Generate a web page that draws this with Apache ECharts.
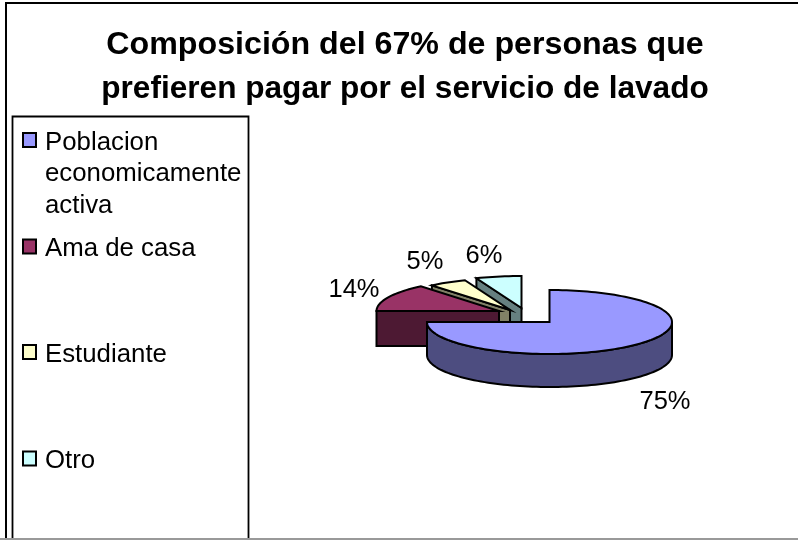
<!DOCTYPE html>
<html><head><meta charset="utf-8">
<style>html,body{margin:0;padding:0;background:#fff}#c{width:798px;height:540px}</style>
<script src="https://cdn.jsdelivr.net/npm/echarts@6/dist/echarts.min.js"></script>
</head><body><div id="c"></div>
<script>
const titleLines = ['Composición del 67% de personas que', 'prefieren pagar por el servicio de lavado'];
const categories = ['Poblacion\neconomicamente\nactiva', 'Ama de casa', 'Estudiante', 'Otro'];
const values = [75, 14, 5, 6];
const faceColors = ['#9999FF', '#993366', '#FFFFCC', '#CCFFFF'];
const sideColors = ['#4D4D80', '#4D1933', '#808066', '#668080'];

// pie geometry (pixels)
const CX = 549.5, CY = 322, RX = 122.5, RY = 32, DEPTH = 33;
const explode = [[0, 0], [-50.5, -11], [-39.5, -12], [-28, -14]];
const labelPos = [[665, 401.5], [354, 290], [425, 261.5], [484, 256]];
const legendRows = [140, 246.5, 352, 458.5];
const titleSizes = [32.2, 31.6];
const FONT = '"Liberation Sans", Arial, sans-serif';

const total = values.reduce((a, b) => a + b, 0);
const starts = [];
values.reduce((acc, v, i) => { starts[i] = acc; return acc + v; }, 0);

function rimPoint(ax, ay, deg) {
  const r = deg * Math.PI / 180;
  return [ax + RX * Math.sin(r), ay - RY * Math.cos(r)];
}
function arcPts(ax, ay, a0, a1) {
  const pts = [], n = Math.max(2, Math.ceil(Math.abs(a1 - a0) / 2));
  for (let i = 0; i <= n; i++) pts.push(rimPoint(ax, ay, a0 + (a1 - a0) * i / n));
  return pts;
}
function poly(points, fill) {
  return { type: 'polygon', shape: { points }, style: { fill, stroke: '#000', lineWidth: 2, lineJoin: 'miter' } };
}
function renderSlice(params) {
  const i = params.dataIndex;
  const a0 = starts[i] / total * 360, a1 = (starts[i] + values[i]) / total * 360;
  const ax = CX + explode[i][0], ay = CY + explode[i][1];
  const children = [];
  // cut face on the counter-clockwise edge, visible only for the upper-left slices
  if (a0 >= 180) {
    const p = rimPoint(ax, ay, a0);
    children.push(poly([[ax, ay], p, [p[0], p[1] + DEPTH + 2], [ax, ay + DEPTH + 2]], sideColors[i]));
  }
  // outer wall, where the rim faces the viewer
  const w0 = Math.max(a0, 90), w1 = Math.min(a1, 270);
  if (w1 > w0) {
    const top = arcPts(ax, ay, w0, w1);
    const bottom = top.slice().reverse().map(p => [p[0], p[1] + DEPTH]);
    children.push(poly(top.concat(bottom), sideColors[i]));
  }
  children.push(poly([[ax, ay]].concat(arcPts(ax, ay, a0, a1)), faceColors[i]));
  return { type: 'group', children };
}
function renderLabel(params) {
  const i = params.dataIndex;
  return { type: 'text', x: labelPos[i][0], y: labelPos[i][1],
    style: { text: values[i] + '%', fill: '#000', font: '25.5px ' + FONT, align: 'center', verticalAlign: 'middle' } };
}

const legendGraphics = [
  { type: 'rect', shape: { x: 6, y: 3, width: 900, height: 600 }, style: { fill: '#fff', stroke: '#000', lineWidth: 2 }, z: 0 },
  { type: 'rect', shape: { x: 12.5, y: 116.5, width: 236, height: 440 }, style: { fill: '#fff', stroke: '#000', lineWidth: 1.8 }, z: 1 },
  { type: 'line', shape: { x1: 0, y1: 539, x2: 798, y2: 539 }, style: { stroke: '#999', lineWidth: 2 }, z: 3 }
];
categories.forEach((c, i) => {
  legendGraphics.push({ type: 'rect', shape: { x: 23, y: legendRows[i] - 7, width: 13, height: 14 },
    style: { fill: faceColors[i], stroke: '#000', lineWidth: 2 }, z: 2 });
  legendGraphics.push({ type: 'text', x: 45, y: legendRows[i] - 13,
    style: { text: c, fill: '#000', font: '25.8px ' + FONT, lineHeight: 31.5, align: 'left', verticalAlign: 'top' }, z: 2 });
});
titleLines.forEach((t, i) => {
  legendGraphics.push({ type: 'text', x: 405, y: 45 + i * 44,
    style: { text: t, fill: '#000', font: 'bold ' + titleSizes[i] + 'px ' + FONT, align: 'center', verticalAlign: 'middle' }, z: 2 });
});

const sliceOrder = [3, 2, 1, 0];
const series = sliceOrder.map((i, k) => ({
  type: 'custom', coordinateSystem: 'none', name: categories[i].replace(/\n/g, ' '), z: 5 + k, silent: true,
  renderItem: () => renderSlice({ dataIndex: i }),
  data: [values[i]]
}));
series.push({ type: 'custom', coordinateSystem: 'none', z: 20, silent: true, renderItem: renderLabel, data: values });

const chart = echarts.init(document.getElementById('c'), null, { renderer: 'canvas' });
chart.setOption({ animation: false, backgroundColor: '#fff', graphic: { elements: legendGraphics }, series });
</script></body></html>
